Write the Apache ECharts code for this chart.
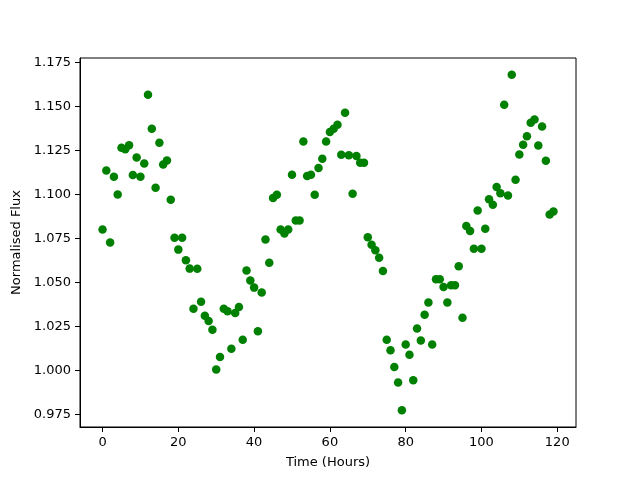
<!DOCTYPE html>
<html>
<head>
<meta charset="utf-8">
<script src="https://cdn.jsdelivr.net/npm/echarts@6/dist/echarts.min.js"></script>
<style>html,body{margin:0;padding:0;background:#fff}#c{width:640px;height:480px}</style>
</head>
<body>
<div id="c"></div>
<script>
const hours = Array.from({length: 120}, (_, i) => i);
const flux = [
1.080,1.1136,1.0726,1.110,1.100,1.1265,1.1256,1.128,1.111,1.121,
1.110,1.1175,1.1566,1.1373,1.1038,1.1294,1.117,1.1193,1.097,1.0754,
1.0686,1.0754,1.0625,1.0578,1.035,1.0577,1.039,1.031,1.028,1.023,
1.0005,1.0075,1.035,1.0335,1.0123,1.0326,1.036,1.0174,1.0568,1.051,
1.047,1.0222,1.0442,1.0744,1.0612,1.0979,1.0998,1.0801,1.0777,1.0801,
1.1112,1.0852,1.0852,1.1301,1.1104,1.1112,1.0998,1.115,1.1203,1.1301,
1.1354,1.1373,1.1396,1.1226,1.1464,1.1222,1.1004,1.1218,1.118,1.118,
1.0757,1.0714,1.0682,1.064,1.0564,1.0174,1.0114,1.0019,0.993,0.9773,
1.0146,1.0089,0.9943,1.0237,1.017,1.0316,1.0385,1.0146,1.0517,1.0517,
1.0473,1.0385,1.0483,1.0483,1.0591,1.0299,1.082,1.0792,1.0691,1.0909,
1.0691,1.0805,1.0972,1.0941,1.1042,1.1007,1.151,1.0994,1.168,1.1083,
1.1227,1.1282,1.133,1.1407,1.1426,1.1278,1.1386,1.1191,1.0885,1.0903
];
const xTicks = [0, 20, 40, 60, 80, 100, 120];
const yTicks = [0.975, 1.000, 1.025, 1.050, 1.075, 1.100, 1.125, 1.150, 1.175];
const xLabel = 'Time (Hours)';
const yLabel = 'Normalised Flux';

const xmin = Math.min(...hours), xmax = Math.max(...hours);
const ymin = Math.min(...flux), ymax = Math.max(...flux);
const xm = (xmax - xmin) * 0.05, ym = (ymax - ymin) * 0.05;
const font = 'DejaVu Sans';

const chart = echarts.init(document.getElementById('c'), null, {renderer: 'canvas'});
chart.setOption({
  animation: false,
  backgroundColor: '#fff',
  grid: {left: 80, right: 64, top: 58, bottom: 53, show: true, borderColor: '#000', borderWidth: 1, backgroundColor: 'transparent'},
  xAxis: {
    type: 'value', min: xmin - xm, max: xmax + xm,
    name: xLabel, nameLocation: 'middle', nameGap: 29,
    nameTextStyle: {fontFamily: font, fontSize: 13, color: '#000'},
    axisLine: {show: true, onZero: false, lineStyle: {color: '#000', width: 1}},
    axisTick: {show: true, inside: false, length: 5, customValues: xTicks, lineStyle: {color: '#000'}},
    axisLabel: {customValues: xTicks, margin: 9, fontFamily: font, fontSize: 13, color: '#000', formatter: v => String(Math.round(v))},
    splitLine: {show: false}
  },
  yAxis: {
    type: 'value', min: ymin - ym, max: ymax + ym,
    name: yLabel, nameLocation: 'middle', nameGap: 56,
    nameTextStyle: {fontFamily: font, fontSize: 13, color: '#000'},
    axisLine: {show: true, onZero: false, lineStyle: {color: '#000', width: 1}},
    axisTick: {show: true, inside: false, length: 5, customValues: yTicks, lineStyle: {color: '#000'}},
    axisLabel: {customValues: yTicks, margin: 9, fontFamily: font, fontSize: 13, color: '#000', formatter: v => v.toFixed(3)},
    splitLine: {show: false}
  },
  series: [{
    type: 'scatter',
    data: hours.map((h, i) => [h, flux[i]]),
    symbol: 'circle', symbolSize: 8.5,
    itemStyle: {color: '#008000', opacity: 1}
  }]
});
</script>
</body>
</html>
